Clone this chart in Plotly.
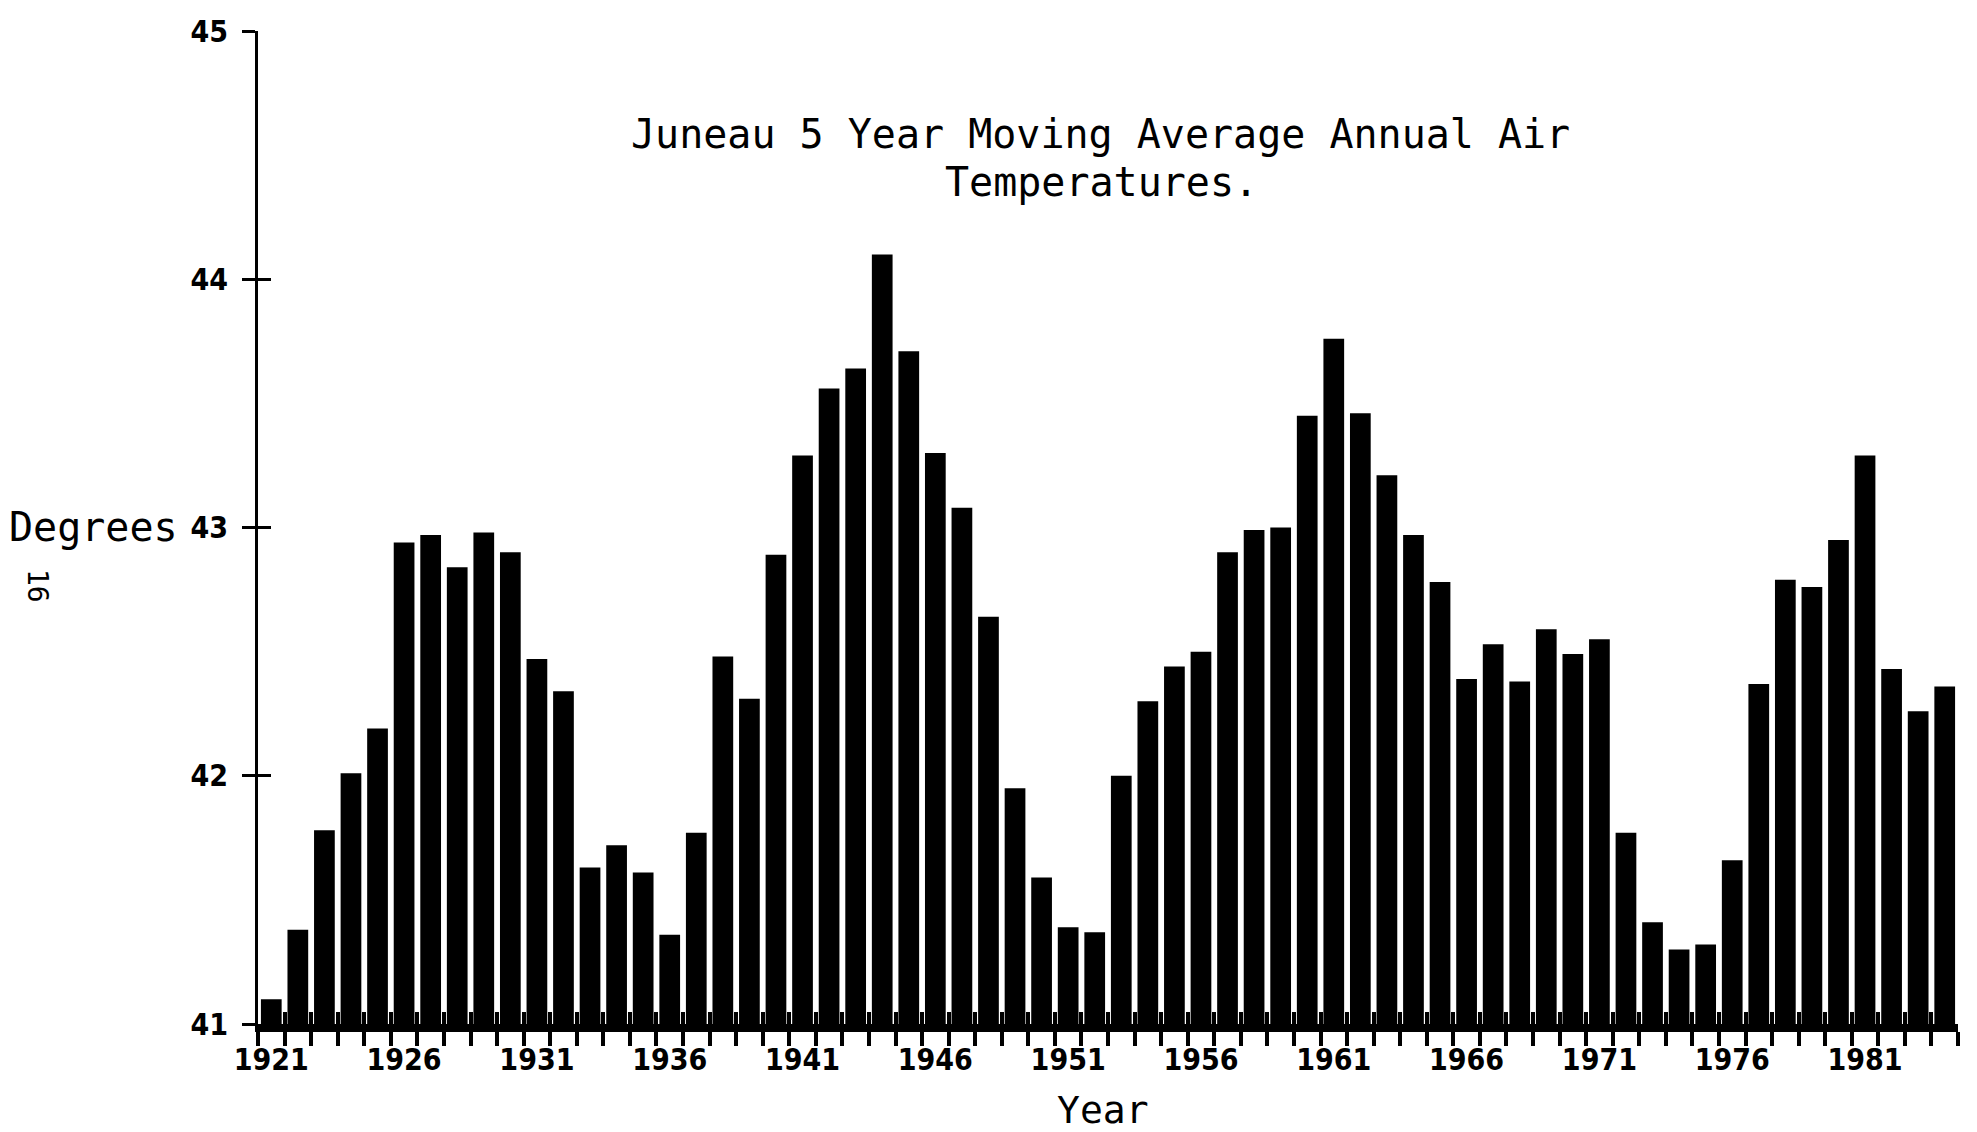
import plotly.graph_objects as go

years = list(range(1921, 1985))
temps = [
    41.10, 41.38, 41.78, 42.01, 42.19, 42.94, 42.97, 42.84, 42.98, 42.90,
    42.47, 42.34, 41.63, 41.72, 41.61, 41.36, 41.77, 42.48, 42.31, 42.89,
    43.29, 43.56, 43.64, 44.10, 43.71, 43.30, 43.08, 42.64, 41.95, 41.59,
    41.39, 41.37, 42.00, 42.30, 42.44, 42.50, 42.90, 42.99, 43.00, 43.45,
    43.76, 43.46, 43.21, 42.97, 42.78, 42.39, 42.53, 42.38, 42.59, 42.49,
    42.55, 41.77, 41.41, 41.30, 41.32, 41.66, 42.37, 42.79, 42.76, 42.95,
    43.29, 42.43, 42.26, 42.36,
]
x_label_years = list(range(1921, 1985, 5))
y_ticks = [41, 42, 43, 44, 45]
boundaries = [y - 0.5 for y in years] + [years[-1] + 0.5]

title_line1 = "Juneau 5 Year Moving Average Annual Air"
title_line2 = "Temperatures."
y_title = "Degrees"
x_title = "Year"
page_no = "16"

W, H = 1977, 1132
L, R, T, B = 258, 19, 31, 108
PW, PH = W - L - R, H - T - B

def px_x(p):
    return (p - L) / PW

def px_y(p):
    return (H - B - p) / PH

mono = "DejaVu Sans Mono, Liberation Mono, monospace"
tickfont = dict(family="Liberation Sans Narrow, DejaVu Sans Condensed, sans-serif",
                size=30, color="black", weight="bold")

fig = go.Figure()
fig.add_trace(go.Bar(x=years, y=temps, marker=dict(color="black", line=dict(width=0)),
                     showlegend=False))
# invisible helper trace for overlay axes (crossing ticks)
fig.add_trace(go.Scatter(x=[years[0]], y=[y_ticks[0]], xaxis="x2", yaxis="y2",
                         mode="markers", marker=dict(opacity=0), showlegend=False,
                         hoverinfo="skip"))

xr = [years[0] - 0.5, years[-1] + 0.5]
yr = [y_ticks[0], y_ticks[-1]]

fig.update_layout(
    width=W, height=H,
    margin=dict(l=L, r=R, t=T, b=B),
    paper_bgcolor="white", plot_bgcolor="white",
    bargap=0.22,
    xaxis=dict(
        range=xr, showgrid=False, zeroline=False,
        showline=True, linecolor="black", linewidth=8,
        tickmode="array", tickvals=x_label_years, ticktext=[str(v) for v in x_label_years],
        ticks="", tickfont=tickfont, ticklabelstandoff=2,
        minor=dict(tickmode="array", tickvals=boundaries, ticks="outside",
                   ticklen=14, tickwidth=4, tickcolor="black", showgrid=False),
    ),
    xaxis2=dict(
        range=xr, overlaying="x", side="bottom", showgrid=False, zeroline=False,
        showline=False, showticklabels=False, ticks="inside", ticklen=12,
        tickwidth=4, tickcolor="black", tickmode="array", tickvals=boundaries,
    ),
    yaxis=dict(
        range=yr, showgrid=False, zeroline=False,
        showline=True, linecolor="black", linewidth=3,
        tickmode="array", tickvals=y_ticks, ticks="outside", ticklen=13,
        tickwidth=3, tickcolor="black", tickfont=tickfont, ticklabelstandoff=8,
    ),
    yaxis2=dict(
        range=yr, overlaying="y", side="left", showgrid=False, zeroline=False,
        showline=False, showticklabels=False, tickmode="array", tickvals=y_ticks,
        ticks="inside", ticklen=13, tickwidth=3, tickcolor="black",
    ),
    annotations=[
        dict(text=title_line1, xref="paper", yref="paper", x=px_x(1100), y=px_y(134),
             xanchor="center", yanchor="middle", showarrow=False,
             font=dict(family=mono, size=40, color="black")),
        dict(text=title_line2, xref="paper", yref="paper", x=px_x(1101), y=px_y(182),
             xanchor="center", yanchor="middle", showarrow=False,
             font=dict(family=mono, size=40, color="black")),
        dict(text=y_title, xref="paper", yref="paper", x=px_x(93), y=px_y(527),
             xanchor="center", yanchor="middle", showarrow=False,
             font=dict(family=mono, size=40, color="black")),
        dict(text=page_no, xref="paper", yref="paper", x=px_x(38), y=px_y(586),
             xanchor="center", yanchor="middle", showarrow=False, textangle=90,
             font=dict(family=mono, size=28, color="black")),
        dict(text=x_title, xref="paper", yref="paper", x=px_x(1103), y=px_y(1110),
             xanchor="center", yanchor="middle", showarrow=False,
             font=dict(family=mono, size=38, color="black")),
    ],
)

fig.write_html("out.html")
